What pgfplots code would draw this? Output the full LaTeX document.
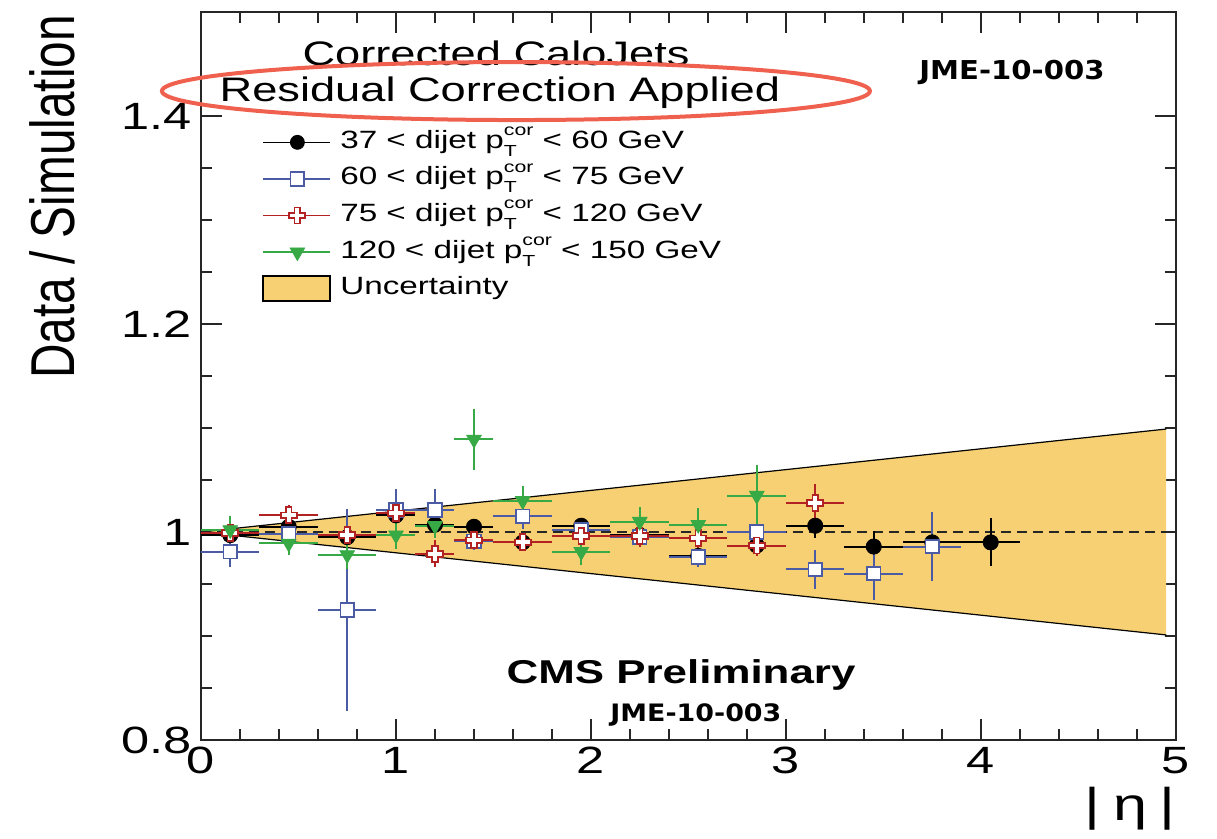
\documentclass[border=0pt]{standalone}
\usepackage{pgfplots}
\usepackage{pgfplotstable}
\pgfplotsset{compat=1.18}
\usepackage{fontspec}
\setmainfont{Liberation Sans}
\newfontfamily\wide[FakeStretch=1.33]{Liberation Sans}
\newfontfamily\ylabfont[FakeStretch=0.77]{Liberation Sans}
\newfontfamily\jme[FakeStretch=1.12]{DejaVu Sans}

\definecolor{bandcol}{RGB}{247,208,115}
\definecolor{cblue}{RGB}{75,92,165}
\definecolor{cred}{RGB}{178,34,34}
\definecolor{cgreen}{RGB}{55,170,70}
\definecolor{ellcol}{RGB}{240,96,78}

\pgfdeclareplotmark{ocross}{%
  \pgfpathmoveto{\pgfpoint{-0.35\pgfplotmarksize}{\pgfplotmarksize}}%
  \pgfpathlineto{\pgfpoint{0.35\pgfplotmarksize}{\pgfplotmarksize}}%
  \pgfpathlineto{\pgfpoint{0.35\pgfplotmarksize}{0.35\pgfplotmarksize}}%
  \pgfpathlineto{\pgfpoint{\pgfplotmarksize}{0.35\pgfplotmarksize}}%
  \pgfpathlineto{\pgfpoint{\pgfplotmarksize}{-0.35\pgfplotmarksize}}%
  \pgfpathlineto{\pgfpoint{0.35\pgfplotmarksize}{-0.35\pgfplotmarksize}}%
  \pgfpathlineto{\pgfpoint{0.35\pgfplotmarksize}{-\pgfplotmarksize}}%
  \pgfpathlineto{\pgfpoint{-0.35\pgfplotmarksize}{-\pgfplotmarksize}}%
  \pgfpathlineto{\pgfpoint{-0.35\pgfplotmarksize}{-0.35\pgfplotmarksize}}%
  \pgfpathlineto{\pgfpoint{-\pgfplotmarksize}{-0.35\pgfplotmarksize}}%
  \pgfpathlineto{\pgfpoint{-\pgfplotmarksize}{0.35\pgfplotmarksize}}%
  \pgfpathlineto{\pgfpoint{-0.35\pgfplotmarksize}{0.35\pgfplotmarksize}}%
  \pgfpathclose
  \pgfusepathqfillstroke}

\newcommand{\pTcor}{p\rlap{\raisebox{-0.6ex}{\fontsize{8}{8}\selectfont T}}\raisebox{0.95ex}{\fontsize{8}{8}\selectfont cor}}

\pgfplotstableread{
x y ex ey
0.15 0.997 0.15 0.004
0.45 1.005 0.15 0.004
0.75 0.995 0.15 0.004
1.0 1.016 0.1 0.005
1.2 1.007 0.1 0.005
1.4 1.005 0.1 0.005
1.65 0.990 0.15 0.005
1.95 1.006 0.15 0.005
2.25 0.997 0.15 0.006
2.55 0.977 0.15 0.007
2.85 0.987 0.15 0.008
3.15 1.006 0.15 0.012
3.45 0.986 0.15 0.015
3.75 0.990 0.15 0.018
4.05 0.990 0.15 0.023
}\blackdata

\pgfplotstableread{
x y ex ey
0.15 0.981 0.15 0.015
0.45 0.998 0.15 0.008
0.75 0.925 0.15 0.097
1.0 1.021 0.1 0.020
1.2 1.021 0.1 0.020
1.4 0.991 0.1 0.008
1.65 1.015 0.15 0.012
1.95 1.002 0.15 0.007
2.25 0.995 0.15 0.008
2.55 0.976 0.15 0.010
2.85 1.000 0.15 0.012
3.15 0.964 0.15 0.019
3.45 0.960 0.15 0.025
3.75 0.986 0.15 0.033
}\bluedata

\pgfplotstableread{
x y ex ey
0.15 0.999 0.15 0.005
0.45 1.016 0.15 0.010
0.75 0.997 0.15 0.008
1.0 1.018 0.1 0.008
1.2 0.979 0.1 0.013
1.4 0.992 0.1 0.006
1.65 0.990 0.15 0.006
1.95 0.996 0.15 0.008
2.25 0.996 0.15 0.010
2.55 0.994 0.15 0.014
2.85 0.987 0.15 0.010
3.15 1.028 0.15 0.018
}\reddata

\pgfplotstableread{
x y ex ey
0.15 1.002 0.15 0.013
0.45 0.989 0.15 0.011
0.75 0.978 0.15 0.014
1.0 0.997 0.1 0.013
1.2 1.006 0.1 0.012
1.4 1.089 0.1 0.029
1.65 1.030 0.15 0.014
1.95 0.981 0.15 0.013
2.25 1.010 0.15 0.014
2.55 1.007 0.15 0.016
2.85 1.035 0.15 0.029
}\greendata

\begin{document}
\begin{tikzpicture}
\useasboundingbox (-100.5pt,-49.5pt) rectangle (508pt,370pt);
\begin{axis}[
  scale only axis,
  width=487.5pt, height=364pt,
  xmin=0, xmax=5, ymin=0.8, ymax=1.5,
  xtick={0,1,2,3,4,5},
  ytick={0.8,1,1.2,1.4},
  yticklabels={0.8,1,1.2,1.4},
  minor x tick num=4,
  minor y tick num=3,
  tick align=inside,
  major tick length=10.5pt,
  minor tick length=5.5pt,
  every tick/.style={black!85, line width=0.7pt},
  axis line style={black!85, line width=0.9pt},
  /pgf/number format/assume math mode=true,
  ticklabel style={font=\wide\fontsize{19}{19}\selectfont},
  yticklabel style={xshift=-1pt},
  clip=false,
  xlabel={|\;η\;|},
  ylabel={Data / Simulation},
  every axis x label/.style={at={(rel axis cs:0.953,-0.094)}, anchor=center, font=\wide\fontsize{23}{23}\selectfont},
  every axis y label/.style={at={(rel axis cs:-0.152,0.746)}, rotate=90, anchor=center, font=\ylabfont\fontsize{31}{31}\selectfont},
  legend cell align=left,
  legend style={at={(rel axis cs:0.0565,0.849)}, anchor=north west, draw=none, fill=none,
    font=\wide\fontsize{12.5}{12.5}\selectfont, row sep=2.3pt, column sep=3.5pt,
    nodes={inner sep=1pt, text height=10pt, text depth=4pt}},
]
% uncertainty band
\addplot[fill=bandcol, draw=none, forget plot] coordinates {(0,1) (4.95,1.099) (4.95,0.901) (0,1)};
\addplot[black, line width=0.6pt, forget plot] coordinates {(0,1) (4.95,1.099)};
\addplot[black, line width=0.6pt, forget plot] coordinates {(0,1) (4.95,0.901)};
\addplot[black!85, line width=0.8pt, dash pattern=on 5pt off 3pt, forget plot] coordinates {(0,1) (5,1)};

\addplot[only marks, black, mark=*, mark size=3.8pt,
  legend image code/.code={\draw[black, line width=0.8pt] (0pt,0pt) -- (33.5pt,0pt);
    \draw[black] plot[mark=*, mark size=3.5pt] coordinates {(17pt,0pt)};},
  error bars/.cd, x dir=both, x explicit, y dir=both, y explicit, error mark=none,
  error bar style={line width=1pt, black}]
  table[x=x, y=y, x error=ex, y error=ey] {\blackdata};
\addlegendentry{37 < dijet \pTcor\ < 60 GeV}

\addplot[only marks, cblue, mark=square*, mark size=3.4pt, mark options={fill=white, line width=0.9pt},
  legend image code/.code={\draw[cblue, line width=0.8pt] (0pt,0pt) -- (33.5pt,0pt);
    \draw[cblue] plot[mark=square*, mark size=3.4pt, mark options={fill=white, line width=0.9pt}] coordinates {(17pt,0pt)};},
  error bars/.cd, x dir=both, x explicit, y dir=both, y explicit, error mark=none,
  error bar style={line width=1pt, cblue}]
  table[x=x, y=y, x error=ex, y error=ey] {\bluedata};
\addlegendentry{60 < dijet \pTcor\ < 75 GeV}

\addplot[only marks, cred, mark=ocross, mark size=4pt, mark options={fill=white, line width=0.9pt},
  legend image code/.code={\draw[cred, line width=0.8pt] (0pt,0pt) -- (33.5pt,0pt);
    \draw[cred] plot[mark=ocross, mark size=4pt, mark options={fill=white, line width=0.9pt}] coordinates {(17pt,0pt)};},
  error bars/.cd, x dir=both, x explicit, y dir=both, y explicit, error mark=none,
  error bar style={line width=1pt, cred}]
  table[x=x, y=y, x error=ex, y error=ey] {\reddata};
\addlegendentry{75 < dijet \pTcor\ < 120 GeV}

\addplot[only marks, cgreen, mark=triangle*, mark size=4.2pt, mark options={rotate=180},
  legend image code/.code={\draw[cgreen, line width=0.8pt] (0pt,0pt) -- (33.5pt,0pt);
    \draw[cgreen] plot[mark=triangle*, mark size=4.2pt, mark options={rotate=180}] coordinates {(17pt,0pt)};},
  error bars/.cd, x dir=both, x explicit, y dir=both, y explicit, error mark=none,
  error bar style={line width=1pt, cgreen}]
  table[x=x, y=y, x error=ex, y error=ey] {\greendata};
\addlegendentry{120 < dijet \pTcor\ < 150 GeV}

\addlegendimage{legend image code/.code={\draw[fill=bandcol, draw=black, line width=0.9pt] (0pt,-6.2pt) rectangle (33.5pt,6.2pt);}}
\addlegendentry{Uncertainty}

\node[font=\wide\fontsize{17}{17}\selectfont] at (axis cs:1.513,1.4606) {Corrected CaloJets};
\node[font=\wide\fontsize{17}{17}\selectfont] at (axis cs:1.533,1.422) {Residual Correction Applied};
\draw[ellcol, line width=2pt] (axis cs:1.615,1.424) ellipse [x radius=177pt, y radius=14.5pt];
\node[font=\jme\bfseries\fontsize{13}{13}\selectfont] at (axis cs:4.159,1.442) {JME-10-003};
\node[font=\wide\bfseries\fontsize{16.5}{16.5}\selectfont] at (axis cs:2.462,0.8625) {CMS Preliminary};
\node[font=\jme\bfseries\fontsize{12}{12}\selectfont] at (axis cs:2.538,0.824) {JME-10-003};
\end{axis}
\end{tikzpicture}
\end{document}
